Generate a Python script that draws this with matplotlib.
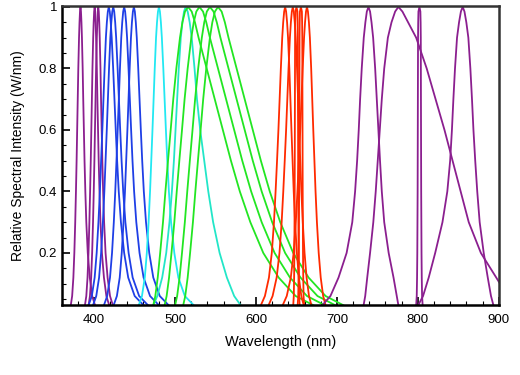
import numpy as np
import matplotlib
matplotlib.use("Agg")
import matplotlib.pyplot as plt
from matplotlib.ticker import MultipleLocator, FixedLocator

plt.rcParams['font.family'] = ['Liberation Sans', 'DejaVu Sans']

levels = [1.0, 0.985, 0.95, 0.9, 0.8, 0.7, 0.6, 0.5, 0.4, 0.3, 0.2, 0.12, 0.06, 0.03]

# wavelength offsets (nm) from the peak, left and right edge, at those levels
uv_left = [0, -0.6, -1.2, -1.8, -2.7, -3.4, -4.1, -4.8, -5.6, -6.5, -7.6, -8.8, -10.3, -12]
uv_right = [0, 0.6, 1.2, 1.8, 2.7, 3.4, 4.2, 5.0, 6.0, 7.2, 9.0, 11.5, 14.5, 18]
blue_left = [0, -1.2, -2.4, -3.6, -5.2, -6.6, -8, -9.5, -11, -12.8, -15, -17.5, -21, -25]
blue_right = [0, 1.2, 2.4, 3.6, 5.4, 7, 8.6, 10.3, 12.3, 15, 19, 24, 32, 43]
teal_left = [0, -2, -4, -6, -8.5, -10.5, -12.5, -14.5, -17, -20, -24, -29, -35, -40]
teal_right = [0, 2.5, 5, 7.5, 11, 14, 18, 23, 28, 34, 42, 51, 60, 68]
green_left = [0, -3.8, -7, -10, -14.5, -18.3, -21.5, -24.8, -28, -31, -34.5, -37.5, -40.5, -43]
green_right = [0, 4.5, 8.5, 13, 23, 33, 43, 53, 64, 77, 93, 112, 133, 155]
red_left = [0, -1.2, -2.4, -3.6, -5.3, -6.8, -8.3, -10, -11.8, -13.8, -16.5, -20, -25, -30]
red_right = [0, 1.2, 2.4, 3.6, 5.2, 6.5, 7.8, 9.2, 10.6, 12.3, 14.5, 17, 20, 23]
line_left = [0, -1.2, -1.5, -1.7, -1.8, -1.9, -2.0, -2.1, -2.2, -2.4, -2.6, -2.9, -3.3, -4]
line_right = [0, 1.2, 1.5, 1.7, 1.8, 1.9, 2.0, 2.1, 2.2, 2.4, 2.6, 2.9, 3.3, 4]
ir1_left = [0, -2, -3.8, -5.8, -8.3, -10.3, -12, -14, -16.5, -20, -27, -37, -47, -57]
ir1_right = [0, 2, 3.8, 5.8, 8.3, 10.3, 12.3, 14.3, 16.5, 19.5, 25, 31, 35, 37]
ir2_left = [0, -4, -8.5, -13, -17.5, -20.5, -23, -25.5, -28, -31, -35, -38.5, -41, -43]
ir2_right = [0, 5, 12, 22, 35, 46, 57, 67, 77, 87, 102, 121, 135, 145]
ir3_left = [0, -2.2, -4.5, -7, -9.5, -11.5, -13.3, -15.5, -19, -25, -34, -42, -49, -55]
ir3_right = [0, 2.2, 4.5, 7, 9.5, 11.5, 13.3, 15.5, 18, 21, 26, 31, 35, 38]

# peak wavelengths (nm)
uv_peaks = [383, 400.5, 405]
blue_peaks = [418, 423.5, 437, 449]
cyan_peaks = [480]
teal_peaks = [513]
green_peaks = [516, 530, 543, 553]
red_peaks = [636, 645.5, 663]
red_line_peaks = [650, 655.5]
ir1_peaks = [739]
ir2_peaks = [776]
ir_line_peaks = [802]
ir3_peaks = [855.5]

purple = '#8b1f8f'
blue = '#1f3fe6'
cyan = '#22e8f2'
teal = '#22e6c8'
green = '#22e622'
red = '#ff2a00'

groups = [
    (uv_peaks, uv_left, uv_right, purple),
    (blue_peaks, blue_left, blue_right, blue),
    (cyan_peaks, blue_left, blue_right, cyan),
    (teal_peaks, teal_left, teal_right, teal),
    (green_peaks, green_left, green_right, green),
    (red_peaks, red_left, red_right, red),
    (red_line_peaks, line_left, line_right, red),
    (ir1_peaks, ir1_left, ir1_right, purple),
    (ir2_peaks, ir2_left, ir2_right, purple),
    (ir_line_peaks, line_left, line_right, purple),
    (ir3_peaks, ir3_left, ir3_right, purple),
]

fig = plt.figure(figsize=(5.2, 3.75), dpi=100)
ax = fig.add_axes([0.119, 0.186, 0.840, 0.798])

lv = np.array(levels)
for peaks, left, right, col in groups:
    for p in peaks:
        xs = np.concatenate([p + np.array(left)[::-1], p + np.array(right)[1:]])
        ys = np.concatenate([lv[::-1], lv[1:]])
        ax.plot(xs, ys, color=col, lw=1.3)

ax.set_xlim(360, 900)
ax.set_ylim(0.03, 1.003)
ax.xaxis.set_major_locator(MultipleLocator(100))
ax.xaxis.set_minor_locator(MultipleLocator(20))
ax.yaxis.set_major_locator(FixedLocator([0.2, 0.4, 0.6, 0.8, 1.0]))
ax.set_yticklabels(['0.2', '0.4', '0.6', '0.8', '1'])
ax.yaxis.set_minor_locator(MultipleLocator(0.05))
ax.tick_params(which='both', direction='in', top=False, right=False, labelsize=9.5)
ax.tick_params(axis='x', pad=6)
ax.tick_params(which='major', length=6, width=1.2)
ax.tick_params(which='minor', length=3, width=0.8)
for s in ['left', 'bottom']:
    ax.spines[s].set_linewidth(1.8)
for s in ['top', 'right']:
    ax.spines[s].set_linewidth(1.8)
    ax.spines[s].set_color('#333333')

ax.set_xlabel('Wavelength (nm)', fontsize=10.5, labelpad=7)
ax.set_ylabel('Relative Spectral Intensity (W/nm)', fontsize=10, labelpad=10)

fig.savefig('out.png', dpi=100)
